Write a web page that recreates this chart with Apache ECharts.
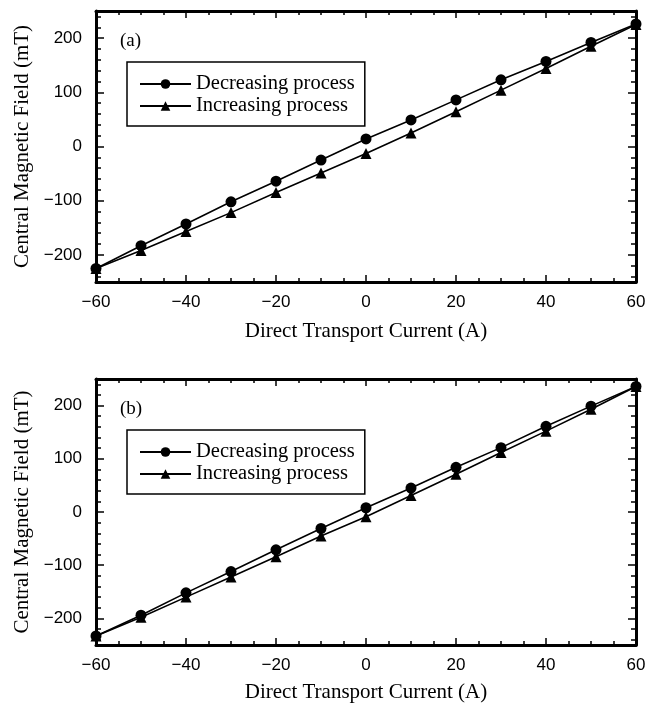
<!DOCTYPE html>
<html>
<head>
<meta charset="utf-8">
<script src="https://cdn.jsdelivr.net/npm/echarts@6/dist/echarts.min.js"></script>
<style>
  html, body { margin: 0; padding: 0; background: #fff; }
  #main { width: 659px; height: 704px; }
</style>
</head>
<body>
<div id="main"></div>
<script>
// transport current (A), same for both panels
var currents = [-60, -50, -40, -30, -20, -10, 0, 10, 20, 30, 40, 50, 60];

// panel (a): central field (mT)
var decA = [-225, -183, -143, -102, -64, -25, 14, 49, 86, 123, 157, 192, 226];
var incA = [-225, -192, -157, -122, -85, -49, -13, 25, 64, 104, 144, 185, 225];

// panel (b)
var decB = [-233, -194, -152, -112, -71, -31, 8, 45, 84, 121, 161, 199, 236];
var incB = [-233, -198, -160, -122, -84, -45, -9, 31, 71, 112, 152, 193, 236];

var panelTags = ['(a)', '(b)'];
var seriesNames = ['Decreasing process', 'Increasing process'];

var serif = '"Liberation Serif", "Times New Roman", serif';
var sans = '"Liberation Sans", Arial, sans-serif';

function pairs(ys) {
  return currents.map(function(x, i) { return [x, ys[i]]; });
}
function minus(v) { return String(v).replace('-', '\u2212'); }

var grids = [
  { left: 96, top: 11, width: 540, height: 271 },
  { left: 96, top: 379, width: 540, height: 268 }
];
var nameGapX = [39, 37];

var xAxes = [], yAxes = [], series = [], legends = [], texts = [];

grids.forEach(function(g, i) {
  ['bottom', 'top'].forEach(function(pos) {
    var main = pos === 'bottom';
    xAxes.push({
      gridIndex: i,
      type: 'value',
      position: pos,
      min: -60, max: 60, interval: 20,
      name: main ? 'Direct Transport Current (A)' : '',
      nameLocation: 'middle',
      nameGap: nameGapX[i],
      nameTextStyle: { fontFamily: serif, fontSize: 21, color: '#000' },
      axisLine: { show: true, onZero: false, lineStyle: { color: '#000', width: 3 } },
      axisTick: { show: true, inside: true, length: 7, lineStyle: { color: '#000', width: 1.5 } },
      minorTick: { show: true, splitNumber: 4, length: 4, lineStyle: { color: '#000', width: 1.5 } },
      axisLabel: { show: main, margin: 12, fontFamily: sans, fontSize: 17, color: '#000', formatter: minus },
      splitLine: { show: false }
    });
  });
  ['left', 'right'].forEach(function(pos) {
    var main = pos === 'left';
    yAxes.push({
      gridIndex: i,
      type: 'value',
      position: pos,
      min: -250, max: 250, splitNumber: 5,
      name: main ? 'Central Magnetic Field (mT)' : '',
      nameLocation: 'middle',
      nameGap: 63,
      nameTextStyle: { fontFamily: serif, fontSize: 21, color: '#000' },
      axisLine: { show: true, onZero: false, lineStyle: { color: '#000', width: 3 } },
      axisTick: { show: true, inside: true, length: 8, lineStyle: { color: '#000', width: 1.5 } },
      minorTick: { show: true, splitNumber: 5, length: 5, lineStyle: { color: '#000', width: 1.5 } },
      axisLabel: { show: main, margin: 14, fontFamily: sans, fontSize: 17, color: '#000',
        showMinLabel: false, showMaxLabel: false, formatter: minus },
      splitLine: { show: false }
    });
  });

  var sets = i === 0 ? [decA, incA] : [decB, incB];
  var symbols = ['circle', 'triangle'];
  sets.forEach(function(ys, k) {
    series.push({
      name: seriesNames[k],
      type: 'line',
      xAxisIndex: 2 * i,
      yAxisIndex: 2 * i,
      data: pairs(ys),
      symbol: symbols[k],
      symbolSize: 11,
      showAllSymbol: true,
      lineStyle: { color: '#000', width: 1.6 },
      itemStyle: { color: '#000' },
      z: 3 - k
    });
  });

  legends.push({
    orient: 'vertical',
    left: 127,
    top: g.top + 51,
    padding: [11, 10, 9, 12],
    borderColor: '#000',
    borderWidth: 1.5,
    itemWidth: 51,
    itemHeight: 12,
    itemGap: 0,
    selectedMode: false,
    data: seriesNames,
    textStyle: { fontFamily: serif, fontSize: 20.5, lineHeight: 22, color: '#000' }
  });

  texts.push({
    type: 'text',
    left: 120,
    top: g.top + 21,
    style: { text: panelTags[i], font: '19px ' + serif, fill: '#000' }
  });
});

var chart = echarts.init(document.getElementById('main'), null, { renderer: 'canvas' });
chart.setOption({
  animation: false,
  backgroundColor: '#fff',
  grid: grids,
  xAxis: xAxes,
  yAxis: yAxes,
  legend: legends,
  graphic: texts,
  series: series
});
window.addEventListener('resize', function() { chart.resize(); });
</script>
</body>
</html>
